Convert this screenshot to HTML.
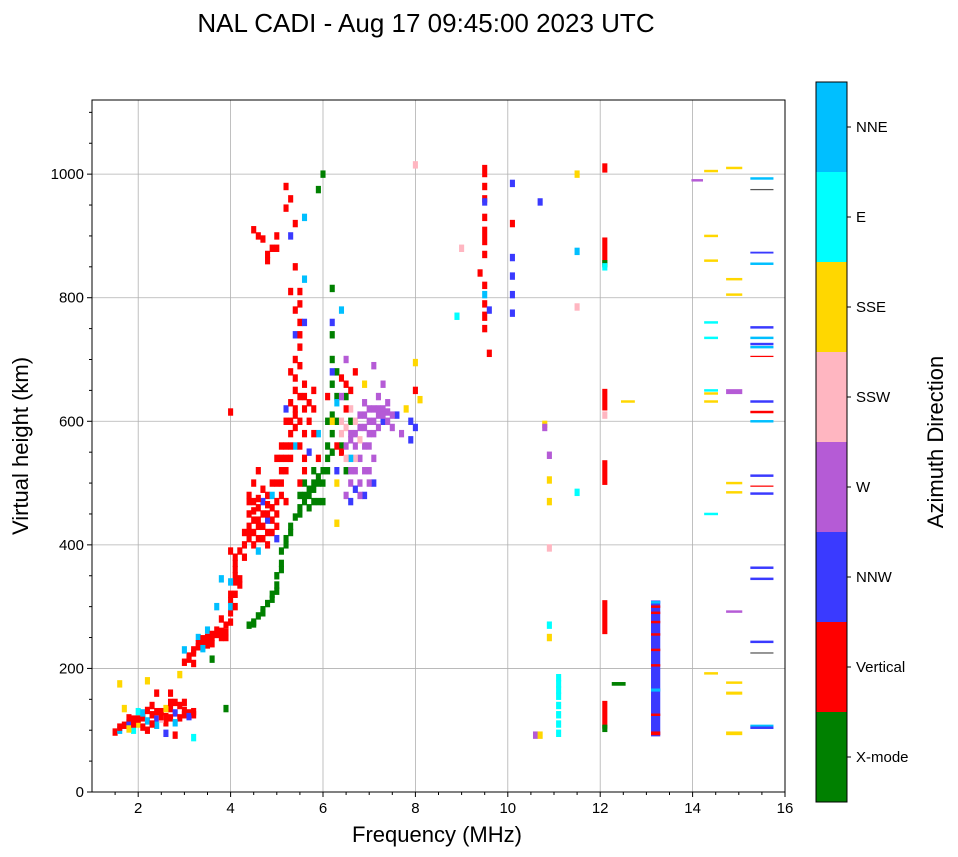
<!DOCTYPE html>
<html><head><meta charset="utf-8"><style>
body{margin:0;background:#fff;}
svg{display:block;font-family:"Liberation Sans",sans-serif;}
</style></head><body>
<svg id="chart" width="958" height="857">
<text x="426" y="32" font-size="26" text-anchor="middle">NAL CADI - Aug 17 09:45:00 2023 UTC</text>
<g id="grid"></g><g id="marks"></g><g id="axes"></g><g id="cbar"></g>
<text x="437" y="842" font-size="22" text-anchor="middle">Frequency (MHz)</text>
<text transform="translate(28,446) rotate(-90)" font-size="22" text-anchor="middle">Virtual height (km)</text>
<text transform="translate(943,442) rotate(-90)" font-size="22" text-anchor="middle">Azimuth Direction</text>
</svg>
<script>
const xTicks=[2,4,6,8,10,12,14,16];
const yTicks=[0,200,400,600,800,1000];
const categories=["X-mode","Vertical","NNW","W","SSW","SSE","E","NNE","other"];
const catColors=["#008000","#ff0000","#3a3aff","#b55bd6","#ffb6c1","#ffd700","#00ffff","#00bfff","#555555"];
// [freq MHz, height km, category, span km, bandwidth MHz]
const echoes=[
[1.5,97,1],[1.6,100,7],[1.7,108,1],[1.8,112,2],[1.9,118,1],[2.0,110,5],[2.1,120,1],[2.2,115,7],[2.3,125,1],[2.4,118,2],[2.5,130,1],[2.6,122,1],[2.7,135,1],[2.8,128,2],[2.9,140,1],[3.0,125,1],[3.1,128,1],[3.2,125,1],[2.2,100,1],[2.4,108,7],[2.0,130,6],[2.6,112,1],[1.9,100,6],[2.3,140,1],[2.5,118,4],[2.8,145,1],[3.0,145,1],[1.7,135,5],[2.4,160,1],[2.7,160,1],[2.9,190,5],[2.2,180,5],[1.6,175,5],[2.6,95,2],[2.8,92,1],[3.2,88,6],[3.9,135,0],[1.8,120,1],[2.1,105,1],[2.9,120,1],
[1.6,105,1],[1.8,102,5],[2.0,118,1],[2.1,128,7],[2.3,110,1],[2.5,122,1],[2.6,135,5],[2.7,120,1],[2.8,112,7],[3.0,132,1],[3.1,122,2],[3.2,130,1],[2.4,130,1],[2.2,132,1],[1.9,110,1],[2.7,145,1],
[3.0,210,1],[3.1,220,1],[3.2,225,1],[3.3,235,1],[3.4,240,1],[3.5,245,1],[3.6,250,1],[3.7,255,1],[3.8,260,1],[3.9,250,1],[3.0,230,7],[3.3,250,7],[3.5,262,7],[3.6,215,0],[3.2,208,1],[3.8,280,1],[3.7,300,7],[3.8,345,7],[3.6,240,1],[3.9,270,1],[4.0,290,1],[4.0,310,1],[4.1,320,1],[4.2,335,1],[4.1,360,1],[4.1,380,1],[4.0,390,1],[4.2,390,1],[4.0,300,7],[4.0,615,1],[4.1,300,1],[4.1,340,1],
[3.1,215,1],[3.2,230,1],[3.3,240,1],[3.4,248,1],[3.5,238,1],[3.6,255,1],[3.7,262,1],[3.8,250,1],[3.9,258,1],[4.0,275,1],[4.0,320,1],[4.1,350,1],[4.1,370,1],[4.2,345,1],[4.0,340,7],[3.5,250,1],[3.4,232,7],
[4.4,270,0],[4.5,275,0],[4.6,285,0],[4.7,295,0],[4.8,305,0],[4.9,320,0],[5.0,335,0],[5.0,350,0],[5.1,370,0],[5.1,390,0],[5.2,410,0],[5.3,430,0],[5.4,445,0],[5.5,460,0],[5.6,470,0],[5.7,480,0],[5.8,490,0],[5.9,500,0],[6.0,520,0],[6.1,540,0],[6.1,560,0],[6.2,580,0],[6.2,610,0],[6.3,640,0],[6.2,700,0],[6.2,740,0],[6.2,815,0,12],[5.6,500,0],[5.8,520,0],[6.0,470,0],[5.5,480,0],[6.5,640,0],[6.6,600,0],[6.4,560,0],[6.5,520,0],[6.0,1000,0],[5.9,975,0],[5.7,460,0],[5.9,470,0],
[4.5,272,0],[4.7,290,0],[4.9,312,0],[5.0,325,0],[5.1,360,0],[5.2,400,0],[5.3,420,0],[5.5,450,0],[5.6,480,0],[5.7,490,0],[5.8,500,0],[5.9,510,0],[6.0,500,0],[6.1,520,0],[6.2,550,0],[6.3,600,0],[6.2,660,0],[6.3,680,0],[6.1,600,0],[5.8,470,0],
[4.3,400,1],[4.4,420,1],[4.4,450,1],[4.5,470,1],[4.5,440,1],[4.6,430,1],[4.6,460,1],[4.7,410,1],[4.7,450,1],[4.8,420,1],[4.8,480,1],[4.9,440,1],[4.9,460,1],[5.0,430,1],[5.0,500,1],[4.5,400,1],[4.3,380,1],[4.6,390,7],[4.7,470,2],[4.9,480,7],[4.8,440,2],[4.5,500,1],[4.6,520,1],[4.4,430,1],[4.4,470,1],[4.6,440,1],
[4.4,410,1],[4.4,480,1],[4.5,420,1],[4.5,455,1],[4.6,475,1],[4.7,430,1],[4.7,490,1],[4.8,450,1],[4.8,465,1],[4.9,420,1],[4.9,500,1],[5.0,470,1],[5.0,450,1],[5.1,480,1],[5.1,500,1],[4.3,420,1],[4.6,410,1],[4.8,400,1],[5.2,470,1],[5.0,410,2],
[5.1,520,1],[5.2,540,1],[5.2,560,1],[5.3,580,1],[5.3,600,1],[5.4,620,1],[5.4,650,1],[5.3,680,1],[5.4,700,1],[5.5,720,1],[5.5,760,1],[5.5,790,1],[5.4,740,2],[5.6,760,2],[5.6,830,7],[5.2,620,2],[5.1,560,1],[5.0,540,1],[5.5,600,1],[5.6,640,1],[5.6,580,1],[5.7,600,1],[5.8,620,1],[5.7,550,2],[5.9,580,7],[5.4,560,7],[5.5,500,1],[5.6,520,1],[5.8,650,1],[5.9,540,1],[5.3,960,1],[5.2,945,1],[5.0,900,1],[4.9,880,1],[4.8,870,1],[4.6,900,1],[4.5,910,1],[4.7,895,1],[5.4,920,1],[5.6,930,7],[5.2,980,1],[5.4,850,1],[5.3,810,1],[5.3,900,2],
[5.2,520,1],[5.3,540,1],[5.3,560,1],[5.4,590,1],[5.4,610,1],[5.3,630,1],[5.5,640,1],[5.4,670,1],[5.5,690,1],[5.5,740,1],[5.4,780,1],[5.5,810,1],[5.6,620,1],[5.7,630,1],[5.6,660,1],[5.5,560,1],[5.6,540,1],[5.8,580,1],[5.2,600,1],[5.1,540,1],[4.8,860,1],[5.0,880,1],
[6.5,480,3],[6.6,500,3],[6.7,520,3],[6.8,540,3],[6.9,560,3],[7.0,580,3],[7.1,600,3],[7.2,610,3],[7.3,620,3],[7.4,615,3],[7.2,640,3],[7.3,660,3],[7.0,600,3],[6.9,610,3],[6.8,590,3],[6.7,580,3],[6.6,570,3],[6.5,590,4],[6.4,600,4],[6.6,620,4],[7.0,520,3],[7.1,500,2],[6.9,480,2],[6.6,470,2],[6.7,540,4],[6.8,500,3],[7.3,600,2],[7.6,610,2],[7.5,590,3],[7.7,580,3],[7.9,600,2],[7.8,620,5],[7.9,570,2],[6.4,550,1],[6.5,620,1],[6.6,650,1],[6.4,670,1],[6.5,700,3],[6.7,680,1],[6.9,660,5],[7.1,690,3],[6.3,520,2],[6.6,540,7],[6.2,600,5],[6.3,630,7],[6.1,640,1],[6.2,680,2],[6.2,760,2],[6.4,780,7],[6.3,435,5],[8.0,650,1],[8.0,695,5],[8.1,635,5],[8.0,590,2],[8.0,1015,4],[7.4,600,3],[7.1,620,3],[6.9,590,3],
[6.6,580,3],[6.7,600,4],[6.8,610,3],[6.9,630,3],[7.0,560,3],[7.1,540,3],[7.1,580,3],[7.2,590,3],[7.2,620,3],[7.3,610,3],[7.4,630,3],[7.5,610,3],[7.0,620,3],[6.8,570,4],[6.7,560,3],[6.5,560,3],[6.6,520,3],[6.9,520,3],[6.8,480,3],[7.0,500,3],[6.7,490,2],[6.5,540,4],[6.4,580,4],[6.3,560,1],[6.3,500,5],[6.4,640,3],[6.5,660,1],
[9.0,880,4],[8.9,770,6],[9.5,1005,1,20],[9.5,980,1],[9.5,960,1],[9.5,930,1],[9.5,900,1,30],[9.5,870,1],[9.4,840,1],[9.5,820,1],[9.5,790,1],[9.5,770,1,15],[9.5,750,1],[9.6,710,1],[9.6,780,2],[9.5,805,7],[9.5,955,2],[10.1,985,2],[10.1,920,1],[10.1,865,2],[10.1,835,2],[10.1,805,2],[10.1,775,2],[10.7,955,2],[10.8,595,5],[10.8,590,3],[10.9,545,3],[10.9,505,5],[10.9,470,5],[10.9,395,4],[10.9,270,6],[10.9,250,5],[10.6,92,3],[10.7,92,5],
[11.1,185,6],[11.1,175,6],[11.1,165,6],[11.1,155,6],[11.1,140,6],[11.1,125,6],[11.1,110,6],[11.1,95,6],
[11.5,1000,5],[11.5,875,7],[11.5,785,4],[11.5,485,6],
[12.1,1010,1,15],[12.1,875,1,45],[12.1,855,0],[12.1,850,6],[12.1,635,1,35],[12.1,610,4],[12.1,517,1,40],[12.1,283,1,55],[12.1,125,1,45],[12.1,103,0],[12.4,175,0,6,0.3],[12.6,632,5,4,0.3],
[13.2,200,2,220,0.2],[13.2,300,1,4,0.2],[13.2,290,1,4,0.2],[13.2,275,1,4,0.2],[13.2,255,1,4,0.2],[13.2,230,1,4,0.2],[13.2,205,1,4,0.2],[13.2,125,1,4,0.2],[13.2,95,1,6,0.2],[13.2,165,7,5,0.2],[13.2,307,7,4,0.2],
[14.1,990,3,4,0.25],[14.4,1005,5,4,0.3],[14.4,900,5,4,0.3],[14.4,860,5,4,0.3],[14.4,760,6,4,0.3],[14.4,735,6,4,0.3],[14.4,650,6,4,0.3],[14.4,645,5,4,0.3],[14.4,632,5,4,0.3],[14.4,450,6,4,0.3],[14.4,192,5,4,0.3],
[14.9,1010,5,4,0.35],[14.9,830,5,4,0.35],[14.9,805,5,4,0.35],[14.9,648,3,8,0.35],[14.9,500,5,4,0.35],[14.9,485,5,4,0.35],[14.9,292,3,4,0.35],[14.9,177,5,4,0.35],[14.9,160,5,5,0.35],[14.9,95,5,6,0.35],
[15.5,993,7,4,0.5],[15.5,975,8,2,0.5],[15.5,873,2,3,0.5],[15.5,855,7,4,0.5],[15.5,752,2,4,0.5],[15.5,735,7,4,0.5],[15.5,725,2,4,0.5],[15.5,720,7,4,0.5],[15.5,705,1,2,0.5],[15.5,632,2,4,0.5],[15.5,615,1,4,0.5],[15.5,600,7,4,0.5],[15.5,512,2,4,0.5],[15.5,495,1,2,0.5],[15.5,483,2,4,0.5],[15.5,363,2,4,0.5],[15.5,345,2,4,0.5],[15.5,243,2,4,0.5],[15.5,225,8,2,0.5],[15.5,107,7,4,0.5],[15.5,104,2,4,0.5]
];
const NS="http://www.w3.org/2000/svg";
const X0=92,X1=785,Y0=792,Y1=100,FMIN=1,FMAX=16,HMIN=0,HMAX=1120;
const xs=f=>X0+(f-FMIN)/(FMAX-FMIN)*(X1-X0);
const ys=h=>Y0-(h-HMIN)/(HMAX-HMIN)*(Y0-Y1);
function mk(tag,attrs,parent){const e=document.createElementNS(NS,tag);for(const k in attrs)e.setAttribute(k,attrs[k]);parent.appendChild(e);return e;}
const grid=document.getElementById('grid'),marks=document.getElementById('marks'),axes=document.getElementById('axes'),cbar=document.getElementById('cbar');
xTicks.forEach(t=>{if(t<FMAX){const l=mk('line',{x1:xs(t),x2:xs(t),y1:Y1,y2:Y0,stroke:'#b0b0b0','stroke-width':0.8},grid);}});
yTicks.forEach(t=>{if(t>HMIN){const l=mk('line',{x1:X0,x2:X1,y1:ys(t),y2:ys(t),stroke:'#b0b0b0','stroke-width':0.8},grid);}});
echoes.forEach(e=>{
  const span=e[3]||12,bw=e[4]||0.11;
  const r=mk('rect',{x:xs(e[0]-bw/2),y:ys(e[1]+span/2),width:bw*(X1-X0)/(FMAX-FMIN),height:span*(Y0-Y1)/(HMAX-HMIN),fill:catColors[e[2]]},marks);
  
  
});
const frame=mk('rect',{x:X0,y:Y1,width:X1-X0,height:Y0-Y1,fill:'none',stroke:'#000','stroke-width':1},axes);


xTicks.forEach(t=>{
  mk('line',{x1:xs(t),x2:xs(t),y1:Y0,y2:Y0+5,stroke:'#000'},axes);
  const tx=mk('text',{x:xs(t),y:Y0+21,'font-size':15,'text-anchor':'middle'},axes);tx.textContent=t;
  
  
});
for(let f=1.5;f<FMAX;f+=0.5){if(f%2!==0)mk('line',{x1:xs(f),x2:xs(f),y1:Y0,y2:Y0+3,stroke:'#000'},axes);}
yTicks.forEach(t=>{
  mk('line',{x1:X0-5,x2:X0,y1:ys(t),y2:ys(t),stroke:'#000'},axes);
  const tx=mk('text',{x:X0-8,y:ys(t)+5,'font-size':15,'text-anchor':'end'},axes);tx.textContent=t;
  
  
});
for(let h=50;h<HMAX;h+=50){if(h%200!==0)mk('line',{x1:X0-3,x2:X0,y1:ys(h),y2:ys(h),stroke:'#000'},axes);}
const CX=816,CW=31,CT=82,CB=802,n=8,ch=(CB-CT)/n;
for(let i=0;i<n;i++){
  const y=CB-(i+1)*ch;
  const r=mk('rect',{x:CX,y:y,width:CW,height:ch,fill:catColors[i]},cbar);
  
  
  mk('line',{x1:CX+CW,x2:CX+CW+4,y1:y+ch/2,y2:y+ch/2,stroke:'#000'},cbar);
  const tx=mk('text',{x:CX+CW+9,y:y+ch/2+5,'font-size':15},cbar);tx.textContent=categories[i];
  
  
}
mk('rect',{x:CX,y:CT,width:CW,height:CB-CT,fill:'none',stroke:'#000'},cbar);
</script>
</body></html>
